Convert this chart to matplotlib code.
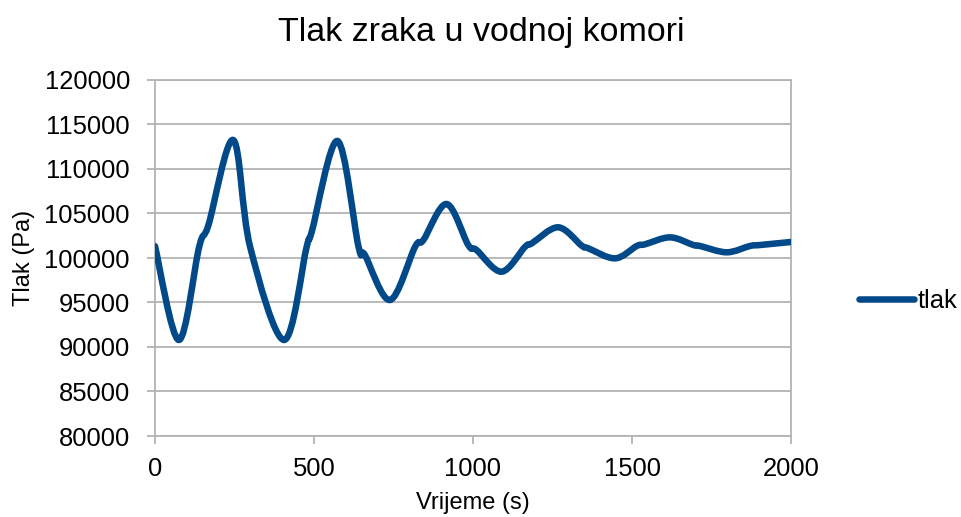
import numpy as np
import matplotlib
matplotlib.use('Agg')
import matplotlib.pyplot as plt
from matplotlib.path import Path
from matplotlib.patches import PathPatch
from matplotlib.lines import Line2D

plt.rcParams['font.family'] = ['Liberation Sans', 'DejaVu Sans']

# values (time in s, pressure in Pa)
vrijeme = [0, 75, 139, 168, 246, 299, 406, 477, 493, 574, 640, 660, 739, 818, 844,
           917, 985, 1011, 1090, 1164, 1185, 1268, 1342, 1362, 1447, 1515, 1541,
           1620, 1693, 1714, 1798, 1871, 1903, 2000]
tlak = [101325, 90790, 101270, 103700, 113260, 101270, 90790, 101270, 102960, 113150,
        101270, 100340, 95280, 101270, 102020, 106070, 101460, 100900, 98460, 101270,
        101650, 103450, 101380, 101100, 99960, 101350, 101540, 102320, 101460, 101350,
        100640, 101350, 101460, 101800]

x_ticks = [0, 500, 1000, 1500, 2000]
y_ticks = list(range(80000, 120001, 5000))

LINE_COLOR = '#02498a'
GRID_COLOR = '#b3b3b3'


def smooth_path(xs, ys):
    # excel-like smoothed line: catmull-rom segments as cubic bezier
    pts = np.column_stack([xs, ys]).astype(float)
    ext = np.vstack([pts[0], pts, pts[-1]])
    verts = [pts[0]]
    codes = [Path.MOVETO]
    for i in range(len(pts) - 1):
        p0, p1, p2, p3 = ext[i], ext[i + 1], ext[i + 2], ext[i + 3]
        c1 = p1 + (p2 - p0) / 6.0
        c2 = p2 - (p3 - p1) / 6.0
        verts += [c1, c2, p2]
        codes += [Path.CURVE4] * 3
    return Path(verts, codes)


def main():
    fig = plt.figure(figsize=(9.62, 5.17), dpi=100)
    ax = fig.add_axes([155 / 962, 81 / 517, 636 / 962, 356 / 517])

    patch = PathPatch(smooth_path(vrijeme, tlak), facecolor='none', edgecolor=LINE_COLOR,
                      lw=4.7, capstyle='round', joinstyle='round', zorder=3)
    ax.add_patch(patch)

    ax.set_xlim(0, 2000)
    ax.set_ylim(80000, 120000)
    ax.set_xticks(x_ticks)
    ax.set_yticks(y_ticks)
    ax.yaxis.grid(True, color=GRID_COLOR, lw=1.3)
    ax.set_axisbelow(True)
    for s in ax.spines.values():
        s.set_color(GRID_COLOR)
        s.set_linewidth(1.3)
    ax.tick_params(direction='out', length=6, width=1.3, color=GRID_COLOR,
                   labelsize=18.4, labelcolor='black')
    ax.tick_params(axis='y', pad=12)
    ax.tick_params(axis='x', pad=9)

    fig.text(0.5, 1 - 33 / 517, 'Tlak zraka u vodnoj komori', ha='center', va='center', fontsize=24.5)
    fig.text(473 / 962, 1 - 503 / 517, 'Vrijeme (s)', ha='center', va='center', fontsize=17)
    fig.text(24 / 962, 1 - 258 / 517, 'Tlak (Pa)', ha='center', va='center', rotation=90, fontsize=17)

    handle = Line2D([], [], color=LINE_COLOR, lw=4.7, solid_capstyle='round')
    fig.legend([handle], ['tlak'], loc='center left', bbox_to_anchor=(859 / 962, 1 - 301 / 517),
               frameon=False, fontsize=18.4, handlelength=2.15, handletextpad=0.15, borderpad=0,
               borderaxespad=0)

    fig.savefig('out.png', dpi=100)


if __name__ == '__main__':
    main()
